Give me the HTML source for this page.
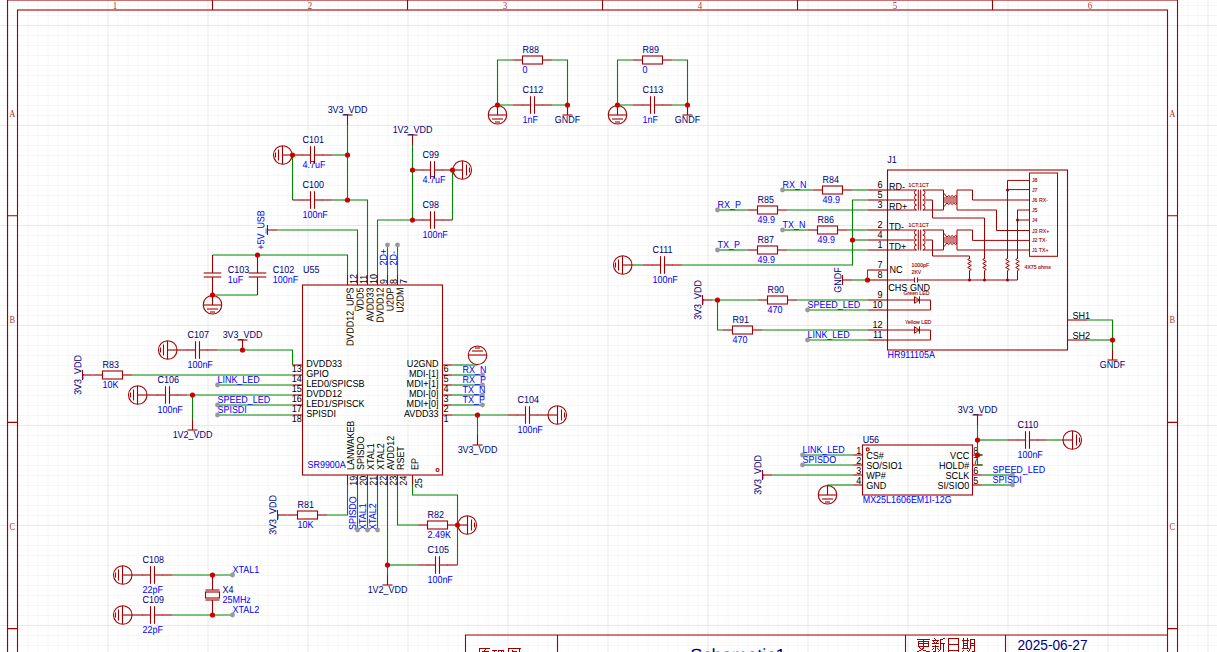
<!DOCTYPE html>
<html><head><meta charset="utf-8"><title>Schematic1</title>
<style>
html,body{margin:0;padding:0;background:#fff;overflow:hidden;width:1217px;height:652px}
svg{display:block}
text{font-family:"Liberation Sans",sans-serif;font-size:10.17px;fill:#000080}
text.b{fill:#0000FF}text.k{fill:#000000}
.w{fill:none;stroke:#008800;stroke-width:1.1}
.c{fill:none;stroke:#A00000;stroke-width:1.1}
.cs{fill:none;stroke:#A00000;stroke-width:1}
.fr{fill:none;stroke:#A00000;stroke-width:1.1}
.ft{font-family:"Liberation Serif",serif;font-size:10.5px;fill:#A00000;fill-opacity:0.85}
.tiny{font-size:5.2px;fill:#A00000;stroke:#A00000;stroke-width:0.12}
</style></head><body>
<svg width="1217" height="700" viewBox="0 0 1217 700">
<rect width="1217" height="700" fill="#FFFFFF"/>
<path d="M18 0V700M28 0V700M38 0V700M48 0V700M58 0V700M68 0V700M78 0V700M88 0V700M98 0V700M118 0V700M128 0V700M138 0V700M148 0V700M158 0V700M168 0V700M178 0V700M188 0V700M198 0V700M218 0V700M228 0V700M238 0V700M248 0V700M258 0V700M268 0V700M278 0V700M288 0V700M298 0V700M318 0V700M328 0V700M338 0V700M348 0V700M358 0V700M368 0V700M378 0V700M388 0V700M398 0V700M418 0V700M428 0V700M438 0V700M448 0V700M458 0V700M468 0V700M478 0V700M488 0V700M498 0V700M518 0V700M528 0V700M538 0V700M548 0V700M558 0V700M568 0V700M578 0V700M588 0V700M598 0V700M618 0V700M628 0V700M638 0V700M648 0V700M658 0V700M668 0V700M678 0V700M688 0V700M698 0V700M718 0V700M728 0V700M738 0V700M748 0V700M758 0V700M768 0V700M778 0V700M788 0V700M798 0V700M818 0V700M828 0V700M838 0V700M848 0V700M858 0V700M868 0V700M878 0V700M888 0V700M898 0V700M918 0V700M928 0V700M938 0V700M948 0V700M958 0V700M968 0V700M978 0V700M988 0V700M998 0V700M1018 0V700M1028 0V700M1038 0V700M1048 0V700M1058 0V700M1068 0V700M1078 0V700M1088 0V700M1098 0V700M1118 0V700M1128 0V700M1138 0V700M1148 0V700M1158 0V700M1168 0V700M1178 0V700M1188 0V700M1198 0V700M1218 0V700M0 5.5H1217M0 15.5H1217M0 35.5H1217M0 45.5H1217M0 55.5H1217M0 65.5H1217M0 75.5H1217M0 85.5H1217M0 95.5H1217M0 105.5H1217M0 115.5H1217M0 135.5H1217M0 145.5H1217M0 155.5H1217M0 165.5H1217M0 175.5H1217M0 185.5H1217M0 195.5H1217M0 205.5H1217M0 215.5H1217M0 235.5H1217M0 245.5H1217M0 255.5H1217M0 265.5H1217M0 275.5H1217M0 285.5H1217M0 295.5H1217M0 305.5H1217M0 315.5H1217M0 335.5H1217M0 345.5H1217M0 355.5H1217M0 365.5H1217M0 375.5H1217M0 385.5H1217M0 395.5H1217M0 405.5H1217M0 415.5H1217M0 435.5H1217M0 445.5H1217M0 455.5H1217M0 465.5H1217M0 475.5H1217M0 485.5H1217M0 495.5H1217M0 505.5H1217M0 515.5H1217M0 535.5H1217M0 545.5H1217M0 555.5H1217M0 565.5H1217M0 575.5H1217M0 585.5H1217M0 595.5H1217M0 605.5H1217M0 615.5H1217M0 635.5H1217M0 645.5H1217M0 655.5H1217M0 665.5H1217M0 675.5H1217M0 685.5H1217M0 695.5H1217" fill="none" stroke="#F6F6F6" stroke-width="1"/>
<path d="M8 0V700M108 0V700M208 0V700M308 0V700M408 0V700M508 0V700M608 0V700M708 0V700M808 0V700M908 0V700M1008 0V700M1108 0V700M1208 0V700M0 25.5H1217M0 125.5H1217M0 225.5H1217M0 325.5H1217M0 425.5H1217M0 525.5H1217M0 625.5H1217" fill="none" stroke="#E9E9E9" stroke-width="1"/>
<g class="fr">
<rect x="7.5" y="0" width="1170" height="830"/>
<rect x="17.5" y="10" width="1150" height="810"/>
<path d="M212.5 0V10"/>
<path d="M407.5 0V10"/>
<path d="M602.5 0V10"/>
<path d="M797.5 0V10"/>
<path d="M992.5 0V10"/>
<path d="M7.5 215.7H17.5M1167.5 215.7H1177.5"/>
<path d="M7.5 422.4H17.5M1167.5 422.4H1177.5"/>
<path d="M7.5 628.6H17.5M1167.5 628.6H1177.5"/>
<path d="M1167.5 635H465.5V660M557.5 635V660M905.5 635V660M1005.5 635V660"/>
</g>
<text class="ft" transform="translate(115 9) scale(0.85 1)" text-anchor="middle">1</text>
<text class="ft" transform="translate(310 9) scale(0.85 1)" text-anchor="middle">2</text>
<text class="ft" transform="translate(505 9) scale(0.85 1)" text-anchor="middle">3</text>
<text class="ft" transform="translate(700 9) scale(0.85 1)" text-anchor="middle">4</text>
<text class="ft" transform="translate(895 9) scale(0.85 1)" text-anchor="middle">5</text>
<text class="ft" transform="translate(1090 9) scale(0.85 1)" text-anchor="middle">6</text>
<text class="ft" transform="translate(12.3 117) scale(0.8 1)" text-anchor="middle">A</text>
<text class="ft" transform="translate(1172.4 117) scale(0.8 1)" text-anchor="middle">A</text>
<text class="ft" transform="translate(12.3 323) scale(0.8 1)" text-anchor="middle">B</text>
<text class="ft" transform="translate(1172.4 323) scale(0.8 1)" text-anchor="middle">B</text>
<text class="ft" transform="translate(12.3 530) scale(0.8 1)" text-anchor="middle">C</text>
<text class="ft" transform="translate(1172.4 530) scale(0.8 1)" text-anchor="middle">C</text>
<text transform="translate(690.2 660.9) rotate(0.06)" style="font-size:17.6px" textLength="95.5" lengthAdjust="spacingAndGlyphs">Schematic1</text>
<text transform="translate(1017.5 649.8)" style="font-size:14.3px" textLength="70" lengthAdjust="spacingAndGlyphs">2025-06-27</text>
<path d="M917 639h13v1h-13zM918 641h11v1h-11zM918 643h11v1h-11zM918 646h11v1h-11zM919 647h1v1h-1zM920 648h1v1h-1zM922 648h1v1h-1zM921 649h2v1h-2zM919 650h2v1h-2zM923 650h3v1h-3zM917 651h2v1h-2zM926 651h4v1h-4zM934 638h1v1h-1zM935 639h1v1h-1zM932 640h7v1h-7zM933 641h1v1h-1zM937 641h1v1h-1zM934 642h1v1h-1zM936 642h1v1h-1zM932 643h7v1h-7zM935 645h1v1h-1zM932 646h7v1h-7zM933 648h1v1h-1zM937 648h1v1h-1zM932 649h1v1h-1zM938 649h1v1h-1zM933 651h2v1h-2zM943 638h2v1h-2zM940 639h3v1h-3zM940 643h5v1h-5zM939 650h1v1h-1zM938 651h1v1h-1zM948 638h11v1h-11zM948 644h11v1h-11zM948 650h11v1h-11zM962 640h7v1h-7zM963 643h5v1h-5zM963 645h5v1h-5zM962 648h7v1h-7zM963 650h1v1h-1zM967 650h1v1h-1zM962 651h1v1h-1zM968 651h1v1h-1zM970 639h5v1h-5zM970 643h5v1h-5zM970 645h5v1h-5zM969 649h1v1h-1zM969 650h1v1h-1zM972 651h2v1h-2zM479 648h11v1h-11zM485 649h1v1h-1zM484 650h1v1h-1zM482 651h7v1h-7zM492 650h5v1h-5zM494 651h1v1h-1zM498 650h6v1h-6zM498 651h1v1h-1zM501 651h1v1h-1zM503 651h1v1h-1zM508 648h13v1h-13zM512 650h1v1h-1zM512 651h5v1h-5zM923 639h1v10h-1zM918 641h1v6h-1zM928 641h1v6h-1zM935 646h1v6h-1zM940 639h1v11h-1zM943 643h1v9h-1zM948 638h1v14h-1zM958 638h1v14h-1zM963 638h1v11h-1zM967 638h1v11h-1zM970 639h1v10h-1zM974 639h1v13h-1zM479 648h1v4h-1zM508 648h1v4h-1zM519 648h1v4h-1z" fill="#A00000" shape-rendering="crispEdges"/>
<polyline class="w" points="512.5,60 497.5,60 497.5,105 512.5,105"/>
<polyline class="w" points="552.5,60 567.5,60 567.5,105 552.5,105"/>
<polyline class="c" points="512.5,60 522.5,60"/>
<polyline class="c" points="542.5,60 552.5,60"/>
<rect class="c" x="522.5" y="56" width="20" height="8"/>
<text transform="translate(522.5 53) rotate(0.06) scale(0.88 1)">R88</text>
<text transform="translate(522.5 73) rotate(0.06) scale(0.88 1)" class="b">0</text>
<polyline class="c" points="512.5,105 522.5,105"/>
<polyline class="c" points="522,105 530.5,105"/>
<polyline class="c" points="534.5,105 543,105"/>
<polyline class="c" points="542.5,105 552.5,105"/>
<polyline class="c" points="530.5,96.2 530.5,113.8"/>
<polyline class="c" points="534.5,96.2 534.5,113.8"/>
<text transform="translate(522.5 93) rotate(0.06) scale(0.88 1)">C112</text>
<text transform="translate(522.5 123) rotate(0.06) scale(0.88 1)" class="b">1nF</text>
<circle class="c" cx="497.5" cy="114.75" r="9.25"/>
<polyline class="c" points="497.5,105 497.5,115"/>
<polyline class="c" points="506.5,115 488.5,115"/>
<polyline class="c" points="503,119 492,119"/>
<polyline class="c" points="500,122 495,122"/>
<polyline class="c" points="567.5,105 567.5,115"/>
<polyline class="c" points="562.5,115 572.5,115"/>
<text text-anchor="middle" transform="translate(567.5 123) rotate(0.06) scale(0.88 1)">GNDF</text>
<circle cx="497.5" cy="105" r="2.6" fill="#CC0000"/>
<circle cx="567.5" cy="105" r="2.6" fill="#CC0000"/>
<polyline class="w" points="632.5,60 617.5,60 617.5,105 632.5,105"/>
<polyline class="w" points="672.5,60 687.5,60 687.5,105 672.5,105"/>
<polyline class="c" points="632.5,60 642.5,60"/>
<polyline class="c" points="662.5,60 672.5,60"/>
<rect class="c" x="642.5" y="56" width="20" height="8"/>
<text transform="translate(642.5 53) rotate(0.06) scale(0.88 1)">R89</text>
<text transform="translate(642.5 73) rotate(0.06) scale(0.88 1)" class="b">0</text>
<polyline class="c" points="632.5,105 642.5,105"/>
<polyline class="c" points="642,105 650.5,105"/>
<polyline class="c" points="654.5,105 663,105"/>
<polyline class="c" points="662.5,105 672.5,105"/>
<polyline class="c" points="650.5,96.2 650.5,113.8"/>
<polyline class="c" points="654.5,96.2 654.5,113.8"/>
<text transform="translate(642.5 93) rotate(0.06) scale(0.88 1)">C113</text>
<text transform="translate(642.5 123) rotate(0.06) scale(0.88 1)" class="b">1nF</text>
<circle class="c" cx="617.5" cy="114.75" r="9.25"/>
<polyline class="c" points="617.5,105 617.5,115"/>
<polyline class="c" points="626.5,115 608.5,115"/>
<polyline class="c" points="623,119 612,119"/>
<polyline class="c" points="620,122 615,122"/>
<polyline class="c" points="687.5,105 687.5,115"/>
<polyline class="c" points="682.5,115 692.5,115"/>
<text text-anchor="middle" transform="translate(687.5 123) rotate(0.06) scale(0.88 1)">GNDF</text>
<circle cx="617.5" cy="105" r="2.6" fill="#CC0000"/>
<circle cx="687.5" cy="105" r="2.6" fill="#CC0000"/>
<polyline class="c" points="347.5,125 347.5,115"/>
<polyline class="c" points="352.5,115 342.5,115"/>
<text text-anchor="middle" transform="translate(347.5 113) rotate(0.06) scale(0.88 1)">3V3_VDD</text>
<polyline class="w" points="347.5,125 347.5,200 367.5,200 367.5,275"/>
<polyline class="w" points="332.5,155 347.5,155"/>
<polyline class="w" points="332.5,200 347.5,200"/>
<polyline class="w" points="292.5,155 292.5,200"/>
<polyline class="c" points="292.5,155 302.5,155"/>
<polyline class="c" points="302,155 310.5,155"/>
<polyline class="c" points="314.5,155 323,155"/>
<polyline class="c" points="322.5,155 332.5,155"/>
<polyline class="c" points="310.5,146.2 310.5,163.8"/>
<polyline class="c" points="314.5,146.2 314.5,163.8"/>
<text transform="translate(302.5 143) rotate(0.06) scale(0.88 1)">C101</text>
<text transform="translate(302.5 168) rotate(0.06) scale(0.88 1)" class="b">4.7uF</text>
<polyline class="c" points="292.5,200 302.5,200"/>
<polyline class="c" points="302,200 310.5,200"/>
<polyline class="c" points="314.5,200 323,200"/>
<polyline class="c" points="322.5,200 332.5,200"/>
<polyline class="c" points="310.5,191.2 310.5,208.8"/>
<polyline class="c" points="314.5,191.2 314.5,208.8"/>
<text transform="translate(302.5 188) rotate(0.06) scale(0.88 1)">C100</text>
<text transform="translate(302.5 218) rotate(0.06) scale(0.88 1)" class="b">100nF</text>
<circle class="c" cx="282.75" cy="155" r="9.25"/>
<polyline class="c" points="292.5,155 282.5,155"/>
<polyline class="c" points="282.5,164 282.5,146"/>
<polyline class="c" points="278.5,160.5 278.5,149.5"/>
<polyline class="c" points="275.5,157.5 275.5,152.5"/>
<circle cx="347.5" cy="155" r="2.6" fill="#CC0000"/>
<circle cx="347.5" cy="200" r="2.6" fill="#CC0000"/>
<circle cx="292.5" cy="155" r="2.6" fill="#CC0000"/>
<polyline class="c" points="412.5,145 412.5,135"/>
<polyline class="c" points="417.5,135 407.5,135"/>
<text text-anchor="middle" transform="translate(412.5 133) rotate(0.06) scale(0.88 1)">1V2_VDD</text>
<polyline class="w" points="412.5,145 412.5,220"/>
<polyline class="w" points="377.5,275 377.5,220 412.5,220"/>
<polyline class="w" points="452.5,170 452.5,220"/>
<polyline class="c" points="412.5,170 422.5,170"/>
<polyline class="c" points="422,170 430.5,170"/>
<polyline class="c" points="434.5,170 443,170"/>
<polyline class="c" points="442.5,170 452.5,170"/>
<polyline class="c" points="430.5,161.2 430.5,178.8"/>
<polyline class="c" points="434.5,161.2 434.5,178.8"/>
<text transform="translate(422.5 158) rotate(0.06) scale(0.88 1)">C99</text>
<text transform="translate(422.5 183) rotate(0.06) scale(0.88 1)" class="b">4.7uF</text>
<polyline class="c" points="412.5,220 422.5,220"/>
<polyline class="c" points="422,220 430.5,220"/>
<polyline class="c" points="434.5,220 443,220"/>
<polyline class="c" points="442.5,220 452.5,220"/>
<polyline class="c" points="430.5,211.2 430.5,228.8"/>
<polyline class="c" points="434.5,211.2 434.5,228.8"/>
<text transform="translate(422.5 208) rotate(0.06) scale(0.88 1)">C98</text>
<text transform="translate(422.5 238) rotate(0.06) scale(0.88 1)" class="b">100nF</text>
<circle class="c" cx="462.25" cy="170" r="9.25"/>
<polyline class="c" points="452.5,170 462.5,170"/>
<polyline class="c" points="462.5,161 462.5,179"/>
<polyline class="c" points="466.5,164.5 466.5,175.5"/>
<polyline class="c" points="469.5,167.5 469.5,172.5"/>
<circle cx="412.5" cy="170" r="2.6" fill="#CC0000"/>
<circle cx="412.5" cy="220" r="2.6" fill="#CC0000"/>
<circle cx="452.5" cy="170" r="2.6" fill="#CC0000"/>
<polyline class="c" points="277.5,230 267.5,230"/>
<polyline class="c" points="267.5,235 267.5,225"/>
<text text-anchor="middle" transform="translate(264.3 230) rotate(-89.94) scale(0.88 1)" class="b">+5V_USB</text>
<polyline class="w" points="277.5,230 357.5,230 357.5,275"/>
<polyline class="w" points="347.5,275 347.5,255 212.5,255"/>
<polyline class="w" points="212.5,295 257.5,295"/>
<polyline class="c" points="212.5,255 212.5,273"/>
<polyline class="c" points="212.5,277 212.5,295"/>
<polyline class="c" points="203.7,273 221.3,273"/>
<polyline class="c" points="203.7,277 221.3,277"/>
<text transform="translate(227.8 273) rotate(0.06) scale(0.88 1)">C103</text>
<text transform="translate(227.8 283) rotate(0.06) scale(0.88 1)" class="b">1uF</text>
<polyline class="c" points="257.5,255 257.5,273"/>
<polyline class="c" points="257.5,277 257.5,295"/>
<polyline class="c" points="248.7,273 266.3,273"/>
<polyline class="c" points="248.7,277 266.3,277"/>
<text transform="translate(272.8 273) rotate(0.06) scale(0.88 1)">C102</text>
<text transform="translate(272.8 283) rotate(0.06) scale(0.88 1)" class="b">100nF</text>
<circle class="c" cx="212.5" cy="304.75" r="9.25"/>
<polyline class="c" points="212.5,295 212.5,305"/>
<polyline class="c" points="221.5,305 203.5,305"/>
<polyline class="c" points="218,309 207,309"/>
<polyline class="c" points="215,312 210,312"/>
<circle cx="257.5" cy="255" r="2.6" fill="#CC0000"/>
<circle cx="212.5" cy="295" r="2.6" fill="#CC0000"/>
<polyline class="c" points="177.5,350 187.5,350"/>
<polyline class="c" points="187,350 195.5,350"/>
<polyline class="c" points="199.5,350 208,350"/>
<polyline class="c" points="207.5,350 217.5,350"/>
<polyline class="c" points="195.5,341.2 195.5,358.8"/>
<polyline class="c" points="199.5,341.2 199.5,358.8"/>
<text transform="translate(187.5 338) rotate(0.06) scale(0.88 1)">C107</text>
<text transform="translate(187.5 368) rotate(0.06) scale(0.88 1)" class="b">100nF</text>
<circle class="c" cx="167.75" cy="350" r="9.25"/>
<polyline class="c" points="177.5,350 167.5,350"/>
<polyline class="c" points="167.5,359 167.5,341"/>
<polyline class="c" points="163.5,355.5 163.5,344.5"/>
<polyline class="c" points="160.5,352.5 160.5,347.5"/>
<polyline class="w" points="217.5,350 292.5,350 292.5,365"/>
<polyline class="c" points="242.5,350 242.5,340"/>
<polyline class="c" points="247.5,340 237.5,340"/>
<text text-anchor="middle" transform="translate(242.5 338) rotate(0.06) scale(0.88 1)">3V3_VDD</text>
<circle cx="242.5" cy="350" r="2.6" fill="#CC0000"/>
<polyline class="c" points="92.5,375 102.5,375"/>
<polyline class="c" points="122.5,375 132.5,375"/>
<rect class="c" x="102.5" y="371" width="20" height="8"/>
<text transform="translate(102.5 368) rotate(0.06) scale(0.88 1)">R83</text>
<text transform="translate(102.5 388) rotate(0.06) scale(0.88 1)" class="b">10K</text>
<polyline class="c" points="92.5,375 82.5,375"/>
<polyline class="c" points="82.5,380 82.5,370"/>
<text text-anchor="middle" transform="translate(81.2 375) rotate(-89.94) scale(0.88 1)">3V3_VDD</text>
<polyline class="w" points="132.5,375 292.5,375"/>
<polyline class="c" points="147.5,395 157.5,395"/>
<polyline class="c" points="157,395 165.5,395"/>
<polyline class="c" points="169.5,395 178,395"/>
<polyline class="c" points="177.5,395 187.5,395"/>
<polyline class="c" points="165.5,386.2 165.5,403.8"/>
<polyline class="c" points="169.5,386.2 169.5,403.8"/>
<text transform="translate(157.5 383) rotate(0.06) scale(0.88 1)">C106</text>
<text transform="translate(157.5 413) rotate(0.06) scale(0.88 1)" class="b">100nF</text>
<circle class="c" cx="137.75" cy="395" r="9.25"/>
<polyline class="c" points="147.5,395 137.5,395"/>
<polyline class="c" points="137.5,404 137.5,386"/>
<polyline class="c" points="133.5,400.5 133.5,389.5"/>
<polyline class="c" points="130.5,397.5 130.5,392.5"/>
<polyline class="w" points="187.5,395 292.5,395"/>
<polyline class="w" points="192.5,395 192.5,420"/>
<polyline class="c" points="192.5,420 192.5,430"/>
<polyline class="c" points="187.5,430 197.5,430"/>
<text text-anchor="middle" transform="translate(192.5 438) rotate(0.06) scale(0.88 1)">1V2_VDD</text>
<circle cx="192.5" cy="395" r="2.6" fill="#CC0000"/>
<polyline class="w" points="217.5,385 292.5,385"/>
<text transform="translate(217.5 383) rotate(0.06) scale(0.88 1)" class="b">LINK_LED</text>
<circle cx="217.5" cy="385" r="2.4" fill="#999999"/>
<polyline class="w" points="217.5,405 292.5,405"/>
<text transform="translate(217.5 403) rotate(0.06) scale(0.88 1)" class="b">SPEED_LED</text>
<circle cx="217.5" cy="405" r="2.4" fill="#999999"/>
<polyline class="w" points="217.5,415 292.5,415"/>
<text transform="translate(217.5 413) rotate(0.06) scale(0.88 1)" class="b">SPISDI</text>
<circle cx="217.5" cy="415" r="2.4" fill="#999999"/>
<rect class="c" x="302.5" y="285" width="140" height="190"/>
<circle class="c" cx="437.5" cy="470" r="1.5"/>
<text transform="translate(303 273) rotate(0.06) scale(0.88 1)">U55</text>
<text transform="translate(307.5 468) rotate(0.06) scale(0.88 1)" class="b">SR9900A</text>
<polyline class="c" points="292.5,365 302.5,365"/>
<polyline class="c" points="442.5,365 452.5,365"/>
<text transform="translate(306.3 367) rotate(0.06) scale(0.89 1)" class="k">DVDD33</text>
<text text-anchor="end" transform="translate(438.5 367) rotate(0.06) scale(0.89 1)" class="k">U2GND</text>
<text text-anchor="end" transform="translate(301.8 372) rotate(0.06) scale(0.89 1)" class="k">13</text>
<text transform="translate(443.5 372) rotate(0.06) scale(0.89 1)" class="k">6</text>
<polyline class="c" points="292.5,375 302.5,375"/>
<polyline class="c" points="442.5,375 452.5,375"/>
<text transform="translate(306.3 377) rotate(0.06) scale(0.89 1)" class="k">GPIO</text>
<text text-anchor="end" transform="translate(438.5 377) rotate(0.06) scale(0.89 1)" class="k">MDI-[1]</text>
<text text-anchor="end" transform="translate(301.8 382) rotate(0.06) scale(0.89 1)" class="k">14</text>
<text transform="translate(443.5 382) rotate(0.06) scale(0.89 1)" class="k">5</text>
<polyline class="c" points="292.5,385 302.5,385"/>
<polyline class="c" points="442.5,385 452.5,385"/>
<text transform="translate(306.3 387) rotate(0.06) scale(0.89 1)" class="k">LED0/SPICSB</text>
<text text-anchor="end" transform="translate(438.5 387) rotate(0.06) scale(0.89 1)" class="k">MDI+[1]</text>
<text text-anchor="end" transform="translate(301.8 392) rotate(0.06) scale(0.89 1)" class="k">15</text>
<text transform="translate(443.5 392) rotate(0.06) scale(0.89 1)" class="k">4</text>
<polyline class="c" points="292.5,395 302.5,395"/>
<polyline class="c" points="442.5,395 452.5,395"/>
<text transform="translate(306.3 397) rotate(0.06) scale(0.89 1)" class="k">DVDD12</text>
<text text-anchor="end" transform="translate(438.5 397) rotate(0.06) scale(0.89 1)" class="k">MDI-[0]</text>
<text text-anchor="end" transform="translate(301.8 402) rotate(0.06) scale(0.89 1)" class="k">16</text>
<text transform="translate(443.5 402) rotate(0.06) scale(0.89 1)" class="k">3</text>
<polyline class="c" points="292.5,405 302.5,405"/>
<polyline class="c" points="442.5,405 452.5,405"/>
<text transform="translate(306.3 407) rotate(0.06) scale(0.89 1)" class="k">LED1/SPISCK</text>
<text text-anchor="end" transform="translate(438.5 407) rotate(0.06) scale(0.89 1)" class="k">MDI+[0]</text>
<text text-anchor="end" transform="translate(301.8 412) rotate(0.06) scale(0.89 1)" class="k">17</text>
<text transform="translate(443.5 412) rotate(0.06) scale(0.89 1)" class="k">2</text>
<polyline class="c" points="292.5,415 302.5,415"/>
<polyline class="c" points="442.5,415 452.5,415"/>
<text transform="translate(306.3 417) rotate(0.06) scale(0.89 1)" class="k">SPISDI</text>
<text text-anchor="end" transform="translate(438.5 417) rotate(0.06) scale(0.89 1)" class="k">AVDD33</text>
<text text-anchor="end" transform="translate(301.8 422) rotate(0.06) scale(0.89 1)" class="k">18</text>
<text transform="translate(443.5 422) rotate(0.06) scale(0.89 1)" class="k">1</text>
<polyline class="c" points="347.5,275 347.5,285"/>
<polyline class="c" points="347.5,475 347.5,485"/>
<text text-anchor="end" transform="translate(353.5 287.5) rotate(-89.94) scale(0.88 1)" class="k">DVDD12_UPS</text>
<text transform="translate(354 470) rotate(-89.94) scale(0.88 1)" class="k">LANWAKEB</text>
<text transform="translate(356.9 284) rotate(-89.94) scale(0.89 1)" class="k">12</text>
<text text-anchor="end" transform="translate(356.8 475.8) rotate(-89.94) scale(0.89 1)" class="k">19</text>
<polyline class="c" points="357.5,275 357.5,285"/>
<polyline class="c" points="357.5,475 357.5,485"/>
<text text-anchor="end" transform="translate(363.5 287.5) rotate(-89.94) scale(0.88 1)" class="k">VDD5</text>
<text transform="translate(364 470) rotate(-89.94) scale(0.88 1)" class="k">SPISDO</text>
<text transform="translate(366.9 284) rotate(-89.94) scale(0.89 1)" class="k">11</text>
<text text-anchor="end" transform="translate(366.8 475.8) rotate(-89.94) scale(0.89 1)" class="k">20</text>
<polyline class="c" points="367.5,275 367.5,285"/>
<polyline class="c" points="367.5,475 367.5,485"/>
<text text-anchor="end" transform="translate(373.5 287.5) rotate(-89.94) scale(0.88 1)" class="k">AVDD33</text>
<text transform="translate(374 470) rotate(-89.94) scale(0.88 1)" class="k">XTAL1</text>
<text transform="translate(376.9 284) rotate(-89.94) scale(0.89 1)" class="k">10</text>
<text text-anchor="end" transform="translate(376.8 475.8) rotate(-89.94) scale(0.89 1)" class="k">21</text>
<polyline class="c" points="377.5,275 377.5,285"/>
<polyline class="c" points="377.5,475 377.5,485"/>
<text text-anchor="end" transform="translate(383.5 287.5) rotate(-89.94) scale(0.88 1)" class="k">DVDD12</text>
<text transform="translate(384 470) rotate(-89.94) scale(0.88 1)" class="k">XTAL2</text>
<text transform="translate(386.9 284) rotate(-89.94) scale(0.89 1)" class="k">9</text>
<text text-anchor="end" transform="translate(386.8 475.8) rotate(-89.94) scale(0.89 1)" class="k">22</text>
<polyline class="c" points="387.5,275 387.5,285"/>
<polyline class="c" points="387.5,475 387.5,485"/>
<text text-anchor="end" transform="translate(393.5 287.5) rotate(-89.94) scale(0.88 1)" class="k">U2DP</text>
<text transform="translate(394 470) rotate(-89.94) scale(0.88 1)" class="k">AVDD12</text>
<text transform="translate(396.9 284) rotate(-89.94) scale(0.89 1)" class="k">8</text>
<text text-anchor="end" transform="translate(396.8 475.8) rotate(-89.94) scale(0.89 1)" class="k">23</text>
<polyline class="c" points="397.5,275 397.5,285"/>
<polyline class="c" points="397.5,475 397.5,485"/>
<text text-anchor="end" transform="translate(403.5 287.5) rotate(-89.94) scale(0.88 1)" class="k">U2DM</text>
<text transform="translate(404 470) rotate(-89.94) scale(0.88 1)" class="k">RSET</text>
<text transform="translate(406.9 284) rotate(-89.94) scale(0.89 1)" class="k">7</text>
<text text-anchor="end" transform="translate(406.8 475.8) rotate(-89.94) scale(0.89 1)" class="k">24</text>
<polyline class="c" points="412.5,475 412.5,485"/>
<text transform="translate(418.2 470) rotate(-89.94) scale(0.88 1)" class="k">EP</text>
<text transform="translate(422 488.2) rotate(-89.94) scale(0.89 1)" class="k">25</text>
<polyline class="w" points="387.5,275 387.5,245"/>
<text transform="translate(386.7 265.5) rotate(-89.94) scale(0.88 1)" class="b">2D+</text>
<circle cx="387.5" cy="245" r="2.4" fill="#999999"/>
<polyline class="w" points="397.5,275 397.5,245"/>
<text transform="translate(396.7 265.5) rotate(-89.94) scale(0.88 1)" class="b">2D-</text>
<circle cx="397.5" cy="245" r="2.4" fill="#999999"/>
<polyline class="w" points="452.5,365 477.5,365"/>
<circle class="c" cx="477.5" cy="355.25" r="9.25"/>
<polyline class="c" points="468.5,355 486.5,355"/>
<polyline class="c" points="472,351 483,351"/>
<polyline class="c" points="475,348 480,348"/>
<polyline class="w" points="452.5,375 482.5,375"/>
<text transform="translate(462.5 373) rotate(0.06) scale(0.88 1)" class="b">RX_N</text>
<circle cx="482.5" cy="375" r="2.4" fill="#999999"/>
<polyline class="w" points="452.5,385 482.5,385"/>
<text transform="translate(462.5 383) rotate(0.06) scale(0.88 1)" class="b">RX_P</text>
<circle cx="482.5" cy="385" r="2.4" fill="#999999"/>
<polyline class="w" points="452.5,395 482.5,395"/>
<text transform="translate(462.5 393) rotate(0.06) scale(0.88 1)" class="b">TX_N</text>
<circle cx="482.5" cy="395" r="2.4" fill="#999999"/>
<polyline class="w" points="452.5,405 482.5,405"/>
<text transform="translate(462.5 403) rotate(0.06) scale(0.88 1)" class="b">TX_P</text>
<circle cx="482.5" cy="405" r="2.4" fill="#999999"/>
<polyline class="w" points="452.5,415 507.5,415"/>
<polyline class="c" points="507.5,415 517.5,415"/>
<polyline class="c" points="517,415 525.5,415"/>
<polyline class="c" points="529.5,415 538,415"/>
<polyline class="c" points="537.5,415 547.5,415"/>
<polyline class="c" points="525.5,406.2 525.5,423.8"/>
<polyline class="c" points="529.5,406.2 529.5,423.8"/>
<text transform="translate(517.5 403) rotate(0.06) scale(0.88 1)">C104</text>
<text transform="translate(517.5 433) rotate(0.06) scale(0.88 1)" class="b">100nF</text>
<circle class="c" cx="557.25" cy="415" r="9.25"/>
<polyline class="c" points="547.5,415 557.5,415"/>
<polyline class="c" points="557.5,406 557.5,424"/>
<polyline class="c" points="561.5,409.5 561.5,420.5"/>
<polyline class="c" points="564.5,412.5 564.5,417.5"/>
<polyline class="w" points="477.5,415 477.5,435"/>
<polyline class="c" points="477.5,435 477.5,445"/>
<polyline class="c" points="472.5,445 482.5,445"/>
<text text-anchor="middle" transform="translate(477.5 453) rotate(0.06) scale(0.88 1)">3V3_VDD</text>
<circle cx="477.5" cy="415" r="2.6" fill="#CC0000"/>
<polyline class="w" points="347.5,485 347.5,515 327.5,515"/>
<polyline class="c" points="287.5,515 297.5,515"/>
<polyline class="c" points="317.5,515 327.5,515"/>
<rect class="c" x="297.5" y="511" width="20" height="8"/>
<text transform="translate(297.5 508) rotate(0.06) scale(0.88 1)">R81</text>
<text transform="translate(297.5 528) rotate(0.06) scale(0.88 1)" class="b">10K</text>
<polyline class="c" points="287.5,515 277.5,515"/>
<polyline class="c" points="277.5,520 277.5,510"/>
<text text-anchor="middle" transform="translate(276.2 515) rotate(-89.94) scale(0.88 1)">3V3_VDD</text>
<polyline class="w" points="357.5,485 357.5,530"/>
<text transform="translate(356.1 530) rotate(-89.94) scale(0.88 1)" class="b">SPISDO</text>
<circle cx="357.5" cy="530" r="2.4" fill="#999999"/>
<polyline class="w" points="367.5,485 367.5,530"/>
<text transform="translate(366.1 530) rotate(-89.94) scale(0.88 1)" class="b">XTAL1</text>
<circle cx="367.5" cy="530" r="2.4" fill="#999999"/>
<polyline class="w" points="377.5,485 377.5,530"/>
<text transform="translate(376.1 530) rotate(-89.94) scale(0.88 1)" class="b">XTAL2</text>
<circle cx="377.5" cy="530" r="2.4" fill="#999999"/>
<polyline class="w" points="387.5,485 387.5,575"/>
<polyline class="c" points="387.5,575 387.5,585"/>
<polyline class="c" points="382.5,585 392.5,585"/>
<text text-anchor="middle" transform="translate(387.5 593) rotate(0.06) scale(0.88 1)">1V2_VDD</text>
<polyline class="w" points="387.5,565 417.5,565"/>
<polyline class="c" points="417.5,565 427.5,565"/>
<polyline class="c" points="427,565 435.5,565"/>
<polyline class="c" points="439.5,565 448,565"/>
<polyline class="c" points="447.5,565 457.5,565"/>
<polyline class="c" points="435.5,556.2 435.5,573.8"/>
<polyline class="c" points="439.5,556.2 439.5,573.8"/>
<text transform="translate(427.5 553) rotate(0.06) scale(0.88 1)">C105</text>
<text transform="translate(427.5 583) rotate(0.06) scale(0.88 1)" class="b">100nF</text>
<polyline class="w" points="457.5,565 457.5,495 412.5,495 412.5,485"/>
<polyline class="w" points="397.5,485 397.5,525 417.5,525"/>
<polyline class="c" points="417.5,525 427.5,525"/>
<polyline class="c" points="447.5,525 457.5,525"/>
<rect class="c" x="427.5" y="521" width="20" height="8"/>
<text transform="translate(427.5 518) rotate(0.06) scale(0.88 1)">R82</text>
<text transform="translate(427.5 538) rotate(0.06) scale(0.88 1)" class="b">2.49K</text>
<circle class="c" cx="467.25" cy="525" r="9.25"/>
<polyline class="c" points="457.5,525 467.5,525"/>
<polyline class="c" points="467.5,516 467.5,534"/>
<polyline class="c" points="471.5,519.5 471.5,530.5"/>
<polyline class="c" points="474.5,522.5 474.5,527.5"/>
<circle cx="387.5" cy="565" r="2.6" fill="#CC0000"/>
<circle cx="457.5" cy="525" r="2.6" fill="#CC0000"/>
<polyline class="c" points="132.5,575 142.5,575"/>
<polyline class="c" points="142,575 150.5,575"/>
<polyline class="c" points="154.5,575 163,575"/>
<polyline class="c" points="162.5,575 172.5,575"/>
<polyline class="c" points="150.5,566.2 150.5,583.8"/>
<polyline class="c" points="154.5,566.2 154.5,583.8"/>
<text transform="translate(142.5 563) rotate(0.06) scale(0.88 1)">C108</text>
<text transform="translate(142.5 593) rotate(0.06) scale(0.88 1)" class="b">22pF</text>
<circle class="c" cx="122.75" cy="575" r="9.25"/>
<polyline class="c" points="132.5,575 122.5,575"/>
<polyline class="c" points="122.5,584 122.5,566"/>
<polyline class="c" points="118.5,580.5 118.5,569.5"/>
<polyline class="c" points="115.5,577.5 115.5,572.5"/>
<polyline class="w" points="172.5,575 232.5,575"/>
<text transform="translate(232.5 573) rotate(0.06) scale(0.88 1)" class="b">XTAL1</text>
<polyline class="c" points="132.5,615 142.5,615"/>
<polyline class="c" points="142,615 150.5,615"/>
<polyline class="c" points="154.5,615 163,615"/>
<polyline class="c" points="162.5,615 172.5,615"/>
<polyline class="c" points="150.5,606.2 150.5,623.8"/>
<polyline class="c" points="154.5,606.2 154.5,623.8"/>
<text transform="translate(142.5 603) rotate(0.06) scale(0.88 1)">C109</text>
<text transform="translate(142.5 633) rotate(0.06) scale(0.88 1)" class="b">22pF</text>
<circle class="c" cx="122.75" cy="615" r="9.25"/>
<polyline class="c" points="132.5,615 122.5,615"/>
<polyline class="c" points="122.5,624 122.5,606"/>
<polyline class="c" points="118.5,620.5 118.5,609.5"/>
<polyline class="c" points="115.5,617.5 115.5,612.5"/>
<polyline class="w" points="172.5,615 232.5,615"/>
<text transform="translate(232.5 613) rotate(0.06) scale(0.88 1)" class="b">XTAL2</text>
<polyline class="c" points="212.5,575 212.5,590"/>
<polyline class="c" points="212.5,600 212.5,615"/>
<polyline class="c" points="205.5,590 219.5,590"/>
<polyline class="c" points="205.5,600 219.5,600"/>
<rect class="c" x="205.5" y="592" width="14" height="6"/>
<text transform="translate(222.5 593) rotate(0.06) scale(0.88 1)">X4</text>
<text transform="translate(222.5 603) rotate(0.06) scale(0.88 1)" class="b">25MHz</text>
<circle cx="212.5" cy="575" r="2.6" fill="#CC0000"/>
<circle cx="232.5" cy="575" r="2.4" fill="#999999"/>
<circle cx="212.5" cy="615" r="2.6" fill="#CC0000"/>
<circle cx="232.5" cy="615" r="2.4" fill="#999999"/>
<polyline class="w" points="782.5,190 812.5,190"/>
<polyline class="w" points="852.5,190 867.5,190"/>
<polyline class="c" points="812.5,190 822.5,190"/>
<polyline class="c" points="842.5,190 852.5,190"/>
<rect class="c" x="822.5" y="186" width="20" height="8"/>
<text transform="translate(822.5 183) rotate(0.06) scale(0.88 1)">R84</text>
<text transform="translate(822.5 203) rotate(0.06) scale(0.88 1)" class="b">49.9</text>
<text transform="translate(782.5 188) rotate(0.06) scale(0.88 1)" class="b">RX_N</text>
<circle cx="782.5" cy="190" r="2.4" fill="#999999"/>
<polyline class="w" points="717.5,210 747.5,210"/>
<polyline class="w" points="787.5,210 867.5,210"/>
<polyline class="c" points="747.5,210 757.5,210"/>
<polyline class="c" points="777.5,210 787.5,210"/>
<rect class="c" x="757.5" y="206" width="20" height="8"/>
<text transform="translate(757.5 203) rotate(0.06) scale(0.88 1)">R85</text>
<text transform="translate(757.5 223) rotate(0.06) scale(0.88 1)" class="b">49.9</text>
<text transform="translate(717.5 208) rotate(0.06) scale(0.88 1)" class="b">RX_P</text>
<circle cx="717.5" cy="210" r="2.4" fill="#999999"/>
<polyline class="w" points="782.5,230 807.5,230"/>
<polyline class="w" points="847.5,230 867.5,230"/>
<polyline class="c" points="807.5,230 817.5,230"/>
<polyline class="c" points="837.5,230 847.5,230"/>
<rect class="c" x="817.5" y="226" width="20" height="8"/>
<text transform="translate(817.5 223) rotate(0.06) scale(0.88 1)">R86</text>
<text transform="translate(817.5 243) rotate(0.06) scale(0.88 1)" class="b">49.9</text>
<text transform="translate(782.5 228) rotate(0.06) scale(0.88 1)" class="b">TX_N</text>
<circle cx="782.5" cy="230" r="2.4" fill="#999999"/>
<polyline class="w" points="717.5,250 747.5,250"/>
<polyline class="w" points="787.5,250 867.5,250"/>
<polyline class="c" points="747.5,250 757.5,250"/>
<polyline class="c" points="777.5,250 787.5,250"/>
<rect class="c" x="757.5" y="246" width="20" height="8"/>
<text transform="translate(757.5 243) rotate(0.06) scale(0.88 1)">R87</text>
<text transform="translate(757.5 263) rotate(0.06) scale(0.88 1)" class="b">49.9</text>
<text transform="translate(717.5 248) rotate(0.06) scale(0.88 1)" class="b">TX_P</text>
<circle cx="717.5" cy="250" r="2.4" fill="#999999"/>
<polyline class="w" points="867.5,200 852.5,200 852.5,265 682.5,265"/>
<polyline class="w" points="852.5,240 867.5,240"/>
<circle cx="852.5" cy="240" r="2.6" fill="#CC0000"/>
<polyline class="c" points="642.5,265 652.5,265"/>
<polyline class="c" points="652,265 660.5,265"/>
<polyline class="c" points="664.5,265 673,265"/>
<polyline class="c" points="672.5,265 682.5,265"/>
<polyline class="c" points="660.5,256.2 660.5,273.8"/>
<polyline class="c" points="664.5,256.2 664.5,273.8"/>
<text transform="translate(652.5 253) rotate(0.06) scale(0.88 1)">C111</text>
<text transform="translate(652.5 283) rotate(0.06) scale(0.88 1)" class="b">100nF</text>
<polyline class="w" points="632.5,265 642.5,265"/>
<circle class="c" cx="622.75" cy="265" r="9.25"/>
<polyline class="c" points="632.5,265 622.5,265"/>
<polyline class="c" points="622.5,274 622.5,256"/>
<polyline class="c" points="618.5,270.5 618.5,259.5"/>
<polyline class="c" points="615.5,267.5 615.5,262.5"/>
<polyline class="c" points="852.5,280 842.5,280"/>
<polyline class="c" points="842.5,285 842.5,275"/>
<text text-anchor="middle" transform="translate(841.2 280) rotate(-89.94) scale(0.88 1)">GNDF</text>
<polyline class="w" points="852.5,280 867.5,280"/>
<polyline class="w" points="867.5,270 867.5,280"/>
<circle cx="867.5" cy="280" r="2.6" fill="#CC0000"/>
<polyline class="c" points="712.5,300 702.5,300"/>
<polyline class="c" points="702.5,305 702.5,295"/>
<text text-anchor="middle" transform="translate(701.2 300) rotate(-89.94) scale(0.88 1)">3V3_VDD</text>
<polyline class="w" points="712.5,300 757.5,300"/>
<polyline class="c" points="757.5,300 767.5,300"/>
<polyline class="c" points="787.5,300 797.5,300"/>
<rect class="c" x="767.5" y="296" width="20" height="8"/>
<text transform="translate(767.5 293) rotate(0.06) scale(0.88 1)">R90</text>
<text transform="translate(767.5 313) rotate(0.06) scale(0.88 1)" class="b">470</text>
<polyline class="w" points="797.5,300 867.5,300"/>
<polyline class="w" points="717.5,300 717.5,330 722.5,330"/>
<polyline class="c" points="722.5,330 732.5,330"/>
<polyline class="c" points="752.5,330 762.5,330"/>
<rect class="c" x="732.5" y="326" width="20" height="8"/>
<text transform="translate(732.5 323) rotate(0.06) scale(0.88 1)">R91</text>
<text transform="translate(732.5 343) rotate(0.06) scale(0.88 1)" class="b">470</text>
<polyline class="w" points="762.5,330 867.5,330"/>
<circle cx="717.5" cy="300" r="2.6" fill="#CC0000"/>
<polyline class="w" points="807.5,310 867.5,310"/>
<text transform="translate(807.5 308) rotate(0.06) scale(0.88 1)" class="b">SPEED_LED</text>
<circle cx="807.5" cy="310" r="2.4" fill="#999999"/>
<polyline class="w" points="807.5,340 867.5,340"/>
<text transform="translate(807.5 338) rotate(0.06) scale(0.88 1)" class="b">LINK_LED</text>
<circle cx="807.5" cy="340" r="2.4" fill="#999999"/>
<rect class="c" x="887.5" y="170" width="180" height="180"/>
<text transform="translate(887.2 163) rotate(0.06) scale(0.88 1)">J1</text>
<text transform="translate(887.5 358) rotate(0.06) scale(0.88 1)" class="b">HR911105A</text>
<polyline class="c" points="867.5,190 887.5,190"/>
<text text-anchor="end" transform="translate(882.5 188) rotate(0.06) scale(0.89 1)" class="k">6</text>
<polyline class="c" points="867.5,200 887.5,200"/>
<text text-anchor="end" transform="translate(882.5 198) rotate(0.06) scale(0.89 1)" class="k">5</text>
<polyline class="c" points="867.5,210 887.5,210"/>
<text text-anchor="end" transform="translate(882.5 208) rotate(0.06) scale(0.89 1)" class="k">3</text>
<polyline class="c" points="867.5,230 887.5,230"/>
<text text-anchor="end" transform="translate(882.5 228) rotate(0.06) scale(0.89 1)" class="k">2</text>
<polyline class="c" points="867.5,240 887.5,240"/>
<text text-anchor="end" transform="translate(882.5 238) rotate(0.06) scale(0.89 1)" class="k">4</text>
<polyline class="c" points="867.5,250 887.5,250"/>
<text text-anchor="end" transform="translate(882.5 248) rotate(0.06) scale(0.89 1)" class="k">1</text>
<polyline class="c" points="867.5,270 887.5,270"/>
<text text-anchor="end" transform="translate(882.5 268) rotate(0.06) scale(0.89 1)" class="k">7</text>
<polyline class="c" points="867.5,280 887.5,280"/>
<text text-anchor="end" transform="translate(882.5 278) rotate(0.06) scale(0.89 1)" class="k">8</text>
<polyline class="c" points="867.5,300 887.5,300"/>
<text text-anchor="end" transform="translate(882.5 298) rotate(0.06) scale(0.89 1)" class="k">9</text>
<polyline class="c" points="867.5,310 887.5,310"/>
<text text-anchor="end" transform="translate(882.5 308) rotate(0.06) scale(0.89 1)" class="k">10</text>
<polyline class="c" points="867.5,330 887.5,330"/>
<text text-anchor="end" transform="translate(882.5 328) rotate(0.06) scale(0.89 1)" class="k">12</text>
<polyline class="c" points="867.5,340 887.5,340"/>
<text text-anchor="end" transform="translate(882.5 338) rotate(0.06) scale(0.89 1)" class="k">11</text>
<text transform="translate(889 190) rotate(0.06) scale(0.89 1)" class="k">RD-</text>
<text transform="translate(889 210) rotate(0.06) scale(0.89 1)" class="k">RD+</text>
<text transform="translate(889 230) rotate(0.06) scale(0.89 1)" class="k">TD-</text>
<text transform="translate(889 250) rotate(0.06) scale(0.89 1)" class="k">TD+</text>
<text transform="translate(889.5 273) rotate(0.06) scale(0.89 1)" class="k">NC</text>
<text transform="translate(888.3 291) rotate(0.06) scale(0.89 1)" class="k">CHS GND</text>
<polyline class="c" points="1067.5,320 1087.5,320"/>
<text transform="translate(1072.5 319) rotate(0.06) scale(0.89 1)" class="k">SH1</text>
<polyline class="c" points="1067.5,340 1087.5,340"/>
<text transform="translate(1072.5 339) rotate(0.06) scale(0.89 1)" class="k">SH2</text>
<polyline class="w" points="1087.5,320 1112.5,320 1112.5,350"/>
<polyline class="w" points="1087.5,340 1112.5,340"/>
<polyline class="c" points="1112.5,350 1112.5,360"/>
<polyline class="c" points="1107.5,360 1117.5,360"/>
<text text-anchor="middle" transform="translate(1112.5 368) rotate(0.06) scale(0.88 1)">GNDF</text>
<circle cx="1112.5" cy="340" r="2.6" fill="#CC0000"/>
<g class="cs">
<polyline points="887.5,190 916.5,190"/>
<polyline points="887.5,200 914.5,200"/>
<polyline points="887.5,210 916.5,210"/>
<path d="M916.5 190a2 2.5 0 0 0 0 5a2 2.5 0 0 0 0 5a2 2.5 0 0 0 0 5a2 2.5 0 0 0 0 5"/>
<path d="M922.8 190a2.2 2.5 0 0 1 0 5a2.2 2.5 0 0 1 0 5a2.2 2.5 0 0 1 0 5a2.2 2.5 0 0 1 0 5"/>
<polyline points="918.3,189.5 918.3,210.5"/>
<polyline points="920.7,189.5 920.7,210.5"/>
<polyline points="922.8,190 943.5,190 943.5,210 922.8,210"/>
<polyline points="957,190 957,210"/>
<polyline points="943.5,193 947,197 948.7,195.4 950.4,197 952.1,195.4 953.8,197 955.5,195.4 957,197"/>
<polyline points="943.5,207 947,203 948.7,204.6 950.4,203 952.1,204.6 953.8,203 955.5,204.6 957,203"/>
<rect x="943.5" y="196.8" width="13.5" height="6.4" fill="#A00000" fill-opacity="0.5" stroke="none"/>
<polyline points="887.5,230 916.5,230"/>
<polyline points="887.5,240 914.5,240"/>
<polyline points="887.5,250 916.5,250"/>
<path d="M916.5 230a2 2.5 0 0 0 0 5a2 2.5 0 0 0 0 5a2 2.5 0 0 0 0 5a2 2.5 0 0 0 0 5"/>
<path d="M922.8 230a2.2 2.5 0 0 1 0 5a2.2 2.5 0 0 1 0 5a2.2 2.5 0 0 1 0 5a2.2 2.5 0 0 1 0 5"/>
<polyline points="918.3,229.5 918.3,250.5"/>
<polyline points="920.7,229.5 920.7,250.5"/>
<polyline points="922.8,230 943.5,230 943.5,250 922.8,250"/>
<polyline points="957,230 957,250"/>
<polyline points="943.5,233 947,237 948.7,235.4 950.4,237 952.1,235.4 953.8,237 955.5,235.4 957,237"/>
<polyline points="943.5,247 947,243 948.7,244.6 950.4,243 952.1,244.6 953.8,243 955.5,244.6 957,243"/>
<rect x="943.5" y="236.8" width="13.5" height="6.4" fill="#A00000" fill-opacity="0.5" stroke="none"/>
<polyline points="957,190 972.5,190 972.5,200 1029.5,200"/>
<polyline points="957,210 996.5,210 996.5,230.5 1029.5,230.5"/>
<polyline points="957,230 972.5,230 972.5,240.4 1029.5,240.4"/>
<polyline points="957,250 1029.5,250"/>
<polyline points="925.2,200 932.5,200 932.5,218 984.5,218 984.5,259"/>
<polyline points="925.2,240 932.5,240 932.5,256 969.5,256 969.5,259"/>
<polyline points="1029.5,180.4 1007.5,180.4 1007.5,259"/>
<polyline points="1029.5,189.6 1007.5,189.6"/>
<polyline points="1029.5,210 1017.5,210 1017.5,259"/>
<polyline points="1029.5,220 1017.5,220"/>
<polyline points="969.5,258.5 967.7,259.5 971.3,261.5 967.7,263.5 971.3,265.5 967.7,267.5 971.3,269.5 969.5,270.5 969.5,280"/>
<polyline points="984.5,258.5 982.7,259.5 986.3,261.5 982.7,263.5 986.3,265.5 982.7,267.5 986.3,269.5 984.5,270.5 984.5,280"/>
<polyline points="1007.5,258.5 1005.7,259.5 1009.3,261.5 1005.7,263.5 1009.3,265.5 1005.7,267.5 1009.3,269.5 1007.5,270.5 1007.5,280"/>
<polyline points="1017.5,258.5 1015.7,259.5 1019.3,261.5 1015.7,263.5 1019.3,265.5 1015.7,267.5 1019.3,269.5 1017.5,270.5 1017.5,280"/>
<polyline points="887.5,280 914.5,280"/>
<polyline points="917.5,280 1017.5,280"/>
<polyline points="914.5,277.5 914.5,282.5"/>
<polyline points="917.5,277.5 917.5,282.5"/>
<rect x="1029.5" y="173" width="28" height="83.3"/>
<polyline points="887.5,300 930.5,300 930.5,310 887.5,310"/>
<path d="M914.5 296.7 V303.3 L919.2 300 Z M919.5 296.4 V303.6"/>
<polyline points="887.5,330 930.5,330 930.5,340 887.5,340"/>
<path d="M914.5 326.7 V333.3 L919.2 330 Z M919.5 326.4 V333.6"/>
</g>
<circle cx="1007.5" cy="190" r="1.5" fill="#A00000"/>
<circle cx="1017.5" cy="220" r="1.5" fill="#A00000"/>
<circle cx="969.5" cy="280" r="1.5" fill="#A00000"/>
<circle cx="984.5" cy="280" r="1.5" fill="#A00000"/>
<circle cx="1007.5" cy="280" r="1.5" fill="#A00000"/>
<text class="tiny" x="1032" y="182.2">J8</text>
<text class="tiny" x="1032" y="191.9">J7</text>
<text class="tiny" x="1032" y="202">J6 RX-</text>
<text class="tiny" x="1032" y="212">J5</text>
<text class="tiny" x="1032" y="222">J4</text>
<text class="tiny" x="1032" y="232.5">J3 RX+</text>
<text class="tiny" x="1032" y="242.3">J2 TX-</text>
<text class="tiny" x="1032" y="252">J1 TX+</text>
<text class="tiny" x="908.5" y="187">1CT:1CT</text>
<text class="tiny" x="908.5" y="227">1CT:1CT</text>
<text class="tiny" x="911.5" y="267">1000pF</text>
<text class="tiny" x="911.5" y="273.5">2KV</text>
<text class="tiny" x="1024.5" y="269">4X75 ohms</text>
<text class="tiny" x="903.5" y="295">Green LED</text>
<text class="tiny" x="905" y="324">Yellow LED</text>
<rect class="c" x="862.5" y="445" width="110" height="50"/>
<circle class="c" cx="867.7" cy="449.4" r="1.5"/>
<text transform="translate(862.7 443) rotate(0.06) scale(0.88 1)">U56</text>
<text transform="translate(862.7 503) rotate(0.06) scale(0.88 1)" class="b">MX25L1606EM1I-12G</text>
<polyline class="c" points="852.5,455 862.5,455"/>
<polyline class="c" points="972.5,455 982.5,455"/>
<text transform="translate(866.3 459) rotate(0.06) scale(0.89 1)" class="k">CS#</text>
<text text-anchor="end" transform="translate(969.2 459) rotate(0.06) scale(0.89 1)" class="k">VCC</text>
<text text-anchor="end" transform="translate(861.3 454) rotate(0.06) scale(0.89 1)" class="k">1</text>
<text transform="translate(973.3 454) rotate(0.06) scale(0.89 1)" class="k">8</text>
<polyline class="c" points="852.5,465 862.5,465"/>
<polyline class="c" points="972.5,465 982.5,465"/>
<text transform="translate(866.3 469) rotate(0.06) scale(0.89 1)" class="k">SO/SIO1</text>
<text text-anchor="end" transform="translate(969.2 469) rotate(0.06) scale(0.89 1)" class="k">HOLD#</text>
<text text-anchor="end" transform="translate(861.3 464) rotate(0.06) scale(0.89 1)" class="k">2</text>
<text transform="translate(973.3 464) rotate(0.06) scale(0.89 1)" class="k">7</text>
<polyline class="c" points="852.5,475 862.5,475"/>
<polyline class="c" points="972.5,475 982.5,475"/>
<text transform="translate(866.3 479) rotate(0.06) scale(0.89 1)" class="k">WP#</text>
<text text-anchor="end" transform="translate(969.2 479) rotate(0.06) scale(0.89 1)" class="k">SCLK</text>
<text text-anchor="end" transform="translate(861.3 474) rotate(0.06) scale(0.89 1)" class="k">3</text>
<text transform="translate(973.3 474) rotate(0.06) scale(0.89 1)" class="k">6</text>
<polyline class="c" points="852.5,485 862.5,485"/>
<polyline class="c" points="972.5,485 982.5,485"/>
<text transform="translate(866.3 489) rotate(0.06) scale(0.89 1)" class="k">GND</text>
<text text-anchor="end" transform="translate(969.2 489) rotate(0.06) scale(0.89 1)" class="k">SI/SIO0</text>
<text text-anchor="end" transform="translate(861.3 484) rotate(0.06) scale(0.89 1)" class="k">4</text>
<text transform="translate(973.3 484) rotate(0.06) scale(0.89 1)" class="k">5</text>
<polyline class="w" points="802.5,455 852.5,455"/>
<text transform="translate(802.5 453) rotate(0.06) scale(0.88 1)" class="b">LINK_LED</text>
<circle cx="802.5" cy="455" r="2.4" fill="#999999"/>
<polyline class="w" points="802.5,465 852.5,465"/>
<text transform="translate(802.5 463) rotate(0.06) scale(0.88 1)" class="b">SPISDO</text>
<circle cx="802.5" cy="465" r="2.4" fill="#999999"/>
<polyline class="c" points="772.5,475 762.5,475"/>
<polyline class="c" points="762.5,480 762.5,470"/>
<text text-anchor="middle" transform="translate(761.2 475) rotate(-89.94) scale(0.88 1)">3V3_VDD</text>
<polyline class="w" points="772.5,475 852.5,475"/>
<polyline class="w" points="827.5,485 852.5,485"/>
<circle class="c" cx="827.5" cy="494.75" r="9.25"/>
<polyline class="c" points="827.5,485 827.5,495"/>
<polyline class="c" points="836.5,495 818.5,495"/>
<polyline class="c" points="833,499 822,499"/>
<polyline class="c" points="830,502 825,502"/>
<polyline class="c" points="977.5,425 977.5,415"/>
<polyline class="c" points="982.5,415 972.5,415"/>
<text text-anchor="middle" transform="translate(977.5 413) rotate(0.06) scale(0.88 1)">3V3_VDD</text>
<polyline class="w" points="977.5,425 977.5,465"/>
<polyline class="w" points="977.5,455 982.5,455"/>
<polyline class="w" points="977.5,465 982.5,465"/>
<polyline class="w" points="977.5,440 1007.5,440"/>
<polyline class="c" points="1007.5,440 1017.5,440"/>
<polyline class="c" points="1017,440 1025.5,440"/>
<polyline class="c" points="1029.5,440 1038,440"/>
<polyline class="c" points="1037.5,440 1047.5,440"/>
<polyline class="c" points="1025.5,431.2 1025.5,448.8"/>
<polyline class="c" points="1029.5,431.2 1029.5,448.8"/>
<text transform="translate(1017.5 428) rotate(0.06) scale(0.88 1)">C110</text>
<text transform="translate(1017.5 458) rotate(0.06) scale(0.88 1)" class="b">100nF</text>
<polyline class="w" points="1047.5,440 1062.5,440"/>
<circle class="c" cx="1072.25" cy="440" r="9.25"/>
<polyline class="c" points="1062.5,440 1072.5,440"/>
<polyline class="c" points="1072.5,431 1072.5,449"/>
<polyline class="c" points="1076.5,434.5 1076.5,445.5"/>
<polyline class="c" points="1079.5,437.5 1079.5,442.5"/>
<circle cx="977.5" cy="440" r="2.6" fill="#CC0000"/>
<circle cx="977.5" cy="455" r="2.6" fill="#CC0000"/>
<polyline class="w" points="982.5,475 1012.5,475"/>
<text transform="translate(992.5 473) rotate(0.06) scale(0.88 1)" class="b">SPEED_LED</text>
<circle cx="1012.5" cy="475" r="2.4" fill="#999999"/>
<polyline class="w" points="982.5,485 1012.5,485"/>
<text transform="translate(992.5 483) rotate(0.06) scale(0.88 1)" class="b">SPISDI</text>
<circle cx="1012.5" cy="485" r="2.4" fill="#999999"/>
</svg></body></html>
